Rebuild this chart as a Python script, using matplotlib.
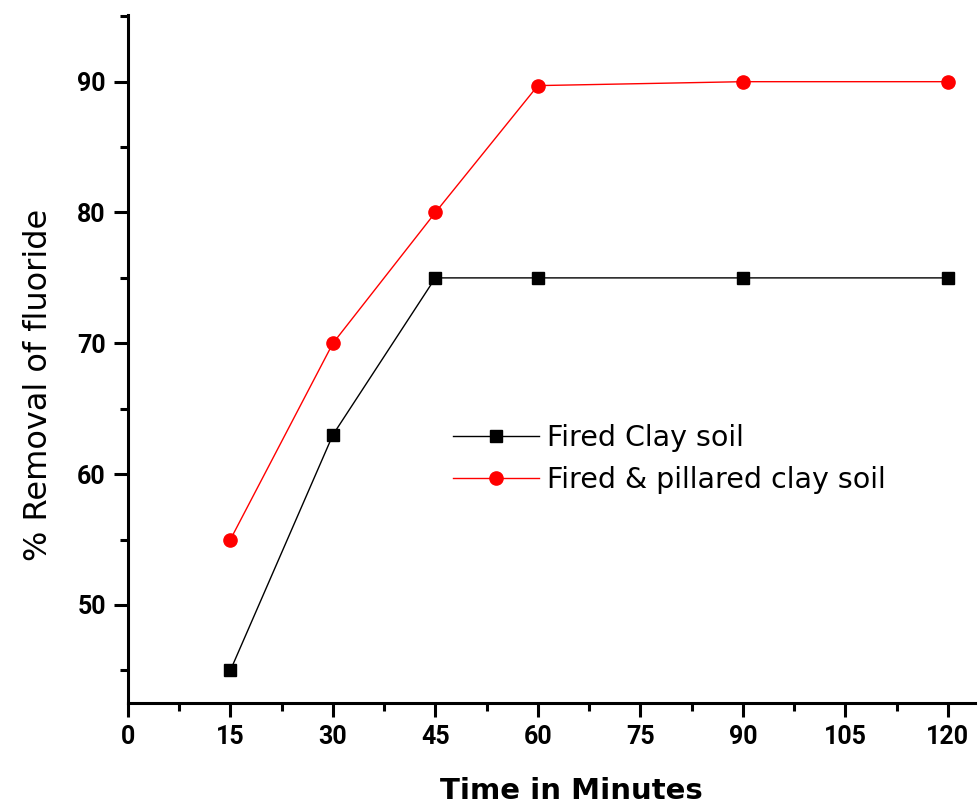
import matplotlib
matplotlib.use("Agg")
import matplotlib.pyplot as plt
from matplotlib.ticker import MultipleLocator

time_min = [15, 30, 45, 60, 90, 120]
fired_clay = [45, 63, 75, 75, 75, 75]
fired_pillared = [55, 70, 80, 89.7, 90, 90]
x_ticks = [0, 15, 30, 45, 60, 75, 90, 105, 120]
y_ticks = [50, 60, 70, 80, 90]

fig = plt.figure(figsize=(9.79, 8.05), dpi=100)
ax = fig.add_axes([0.1307, 0.1267, 0.8653, 0.8547])

ax.plot(time_min, fired_clay, color="black", lw=1.0, marker="s", ms=9,
        label="Fired Clay soil")
ax.plot(time_min, fired_pillared, color="red", lw=1.0, marker="o", ms=9.5,
        label="Fired & pillared clay soil")

ax.set_xlim(0, 124)
ax.set_ylim(42.5, 95.1)
ax.set_xticks(x_ticks)
ax.set_yticks(y_ticks)
ax.xaxis.set_minor_locator(MultipleLocator(7.5))
ax.yaxis.set_minor_locator(MultipleLocator(5))

for s in ["top", "right"]:
    ax.spines[s].set_visible(False)
for s in ["left", "bottom"]:
    ax.spines[s].set_linewidth(2.2)

ax.tick_params(which="major", direction="out", length=10, width=2.2, pad=6)
ax.tick_params(which="minor", direction="out", length=6, width=2.2)
for lab in ax.get_xticklabels() + ax.get_yticklabels():
    lab.set_fontfamily("Roboto")
    lab.set_fontweight("bold")
    lab.set_fontsize(18)

ax.set_ylabel("% Removal of fluoride", fontsize=23, family="DejaVu Sans")
ax.yaxis.set_label_coords(-0.106, 0.462)
ax.set_xlabel("Time in Minutes", fontsize=21, family="DejaVu Sans", fontweight="bold")
ax.xaxis.set_label_coords(0.524, -0.128)
ax.xaxis.label.set_va("center")
ax.yaxis.label.set_va("center")

leg = ax.legend(loc="center left", bbox_to_anchor=(0.367, 0.355), frameon=False,
                prop={"family": "DejaVu Sans", "size": 20.5}, handlelength=3.0,
                handletextpad=0.3, labelspacing=0.5, borderpad=0)

fig.savefig("out.png", dpi=100)
